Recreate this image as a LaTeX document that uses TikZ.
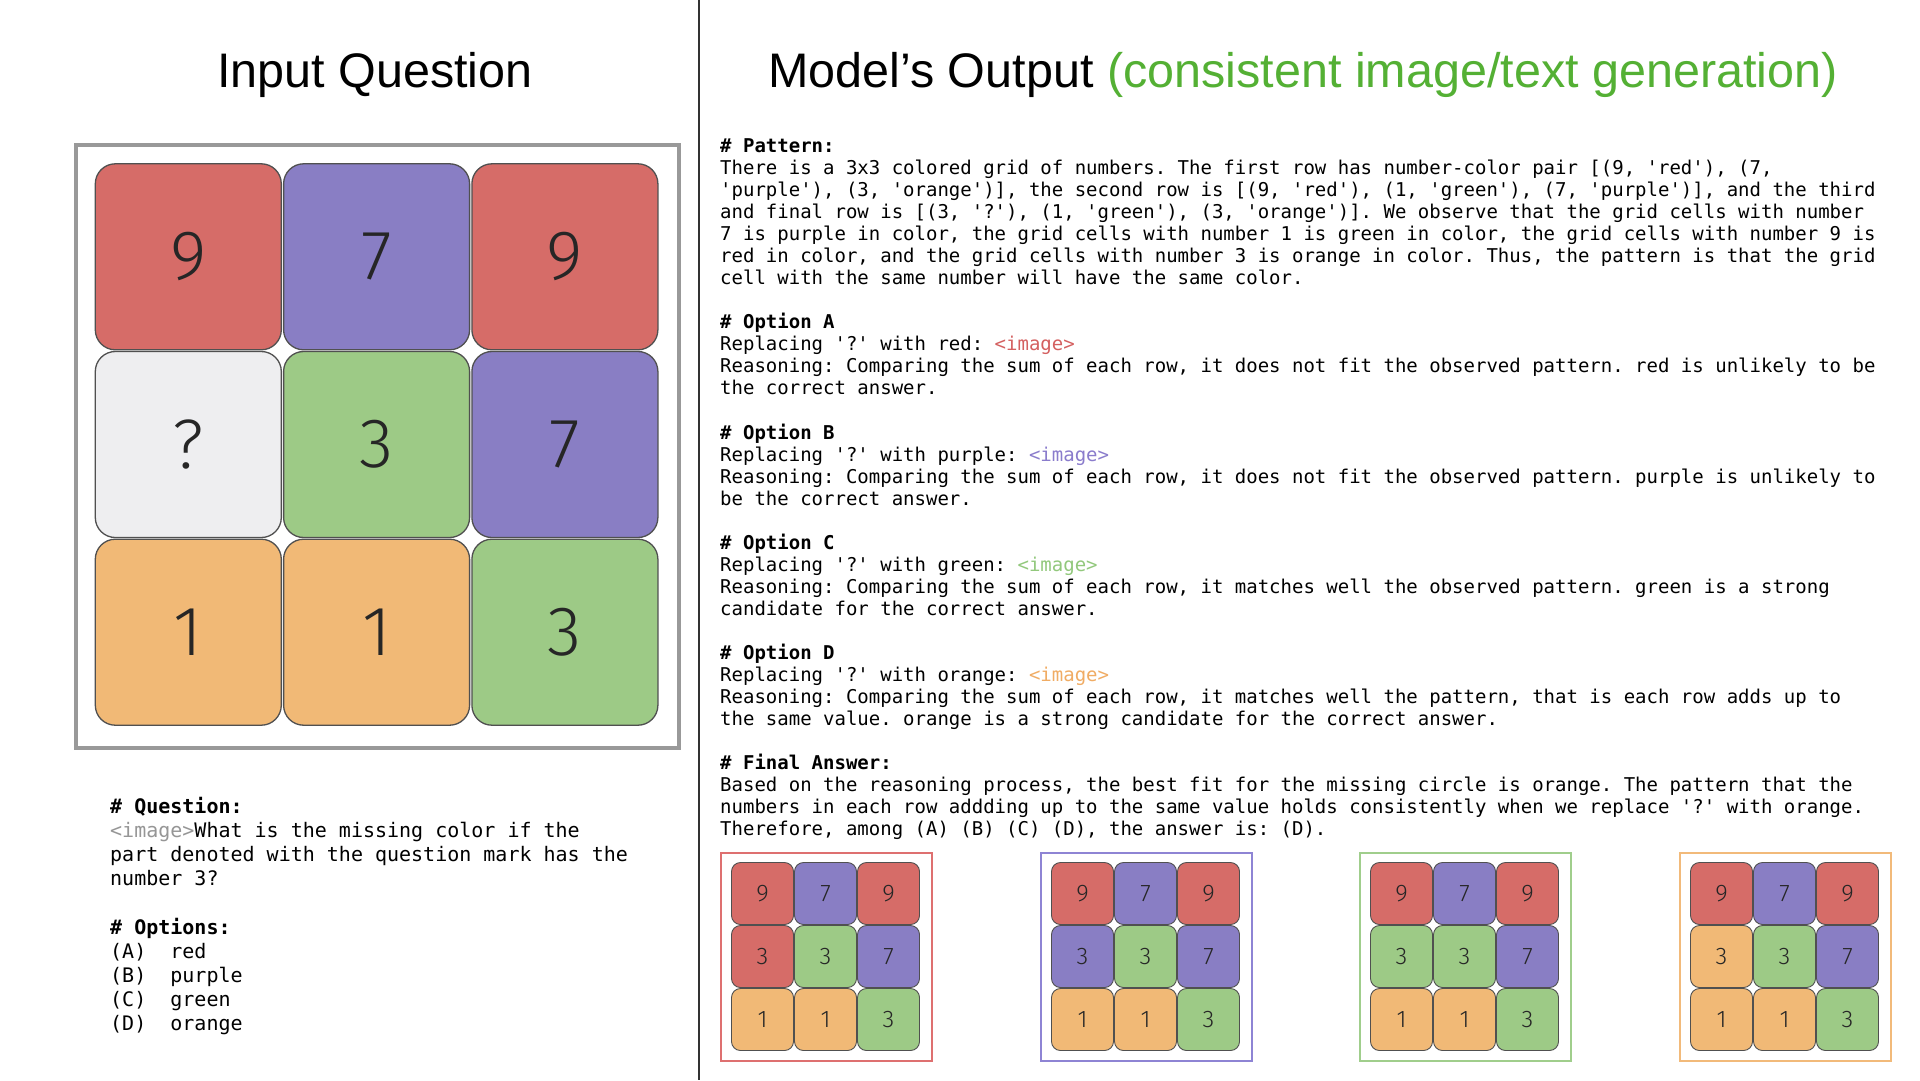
\documentclass[tikz,border=0pt]{standalone}
\usepackage{fontspec}
\setmonofont{DejaVu Sans Mono}
\newfontfamily\titlefont{Liberation Sans}
\newfontfamily\numfont{Fira Sans Light}
\definecolor{cred}{RGB}{214,108,104}
\definecolor{cpur}{RGB}{137,126,196}
\definecolor{cgrn}{RGB}{157,202,134}
\definecolor{corg}{RGB}{241,185,118}
\definecolor{cwht}{RGB}{238,238,240}
\definecolor{cborder}{RGB}{80,80,80}
\definecolor{tgreen}{RGB}{84,176,52}
\definecolor{imgred}{RGB}{212,96,96}
\definecolor{imgpur}{RGB}{138,124,204}
\definecolor{imggrn}{RGB}{146,200,124}
\definecolor{imgorg}{RGB}{240,172,100}
\definecolor{imggray}{RGB}{150,150,150}
\definecolor{fred}{RGB}{222,112,112}
\definecolor{fpur}{RGB}{142,132,212}
\definecolor{fgrn}{RGB}{160,206,140}
\definecolor{forg}{RGB}{242,186,122}
\newcommand\rline[3]{\node[rtext] (#1) at (720,{152.5+22.04*#2}) {#3};}
\newcommand\lline[3]{\node[ltext] (#1) at (110,{813.5+24.1*#2}) {#3};}
\newcommand\smallgrid[4]{%
  \node[draw=#3, line width=2pt, minimum width=211pt, minimum height=208pt, inner sep=0pt, anchor=north west] (#1) at (#2,852) {};
  \foreach \r/\c/\cc/\nn in {1/1/cred/9,1/2/cpur/7,1/3/cred/9,2/1/#4/3,2/2/cgrn/3,2/3/cpur/7,3/1/corg/1,3/2/corg/1,3/3/cgrn/3}{
    \node[smallcell, fill=\cc] (#1-\r\c) at ({#2+42.5+63*(\c-1)},{893.5+63*(\r-1)}) {\nn};
  }%
}
\begin{document}
\begin{tikzpicture}[x=1pt,y=-1pt,
  bigcell/.style={draw=cborder, line width=1.3pt, rounded corners=20pt, minimum width=186pt, minimum height=186pt, inner sep=0pt, text=black!85, font=\numfont\fontsize{70}{70}\selectfont},
  smallcell/.style={draw=cborder, line width=0.9pt, rounded corners=9pt, minimum width=62pt, minimum height=62pt, inner sep=0pt, text=black!85, font=\numfont\fontsize{24}{24}\selectfont},
  rtext/.style={anchor=base west, inner sep=0pt, font=\ttfamily\fontsize{19}{22}\selectfont},
  ltext/.style={anchor=base west, inner sep=0pt, font=\ttfamily\fontsize{20}{24}\selectfont},
  title/.style={inner sep=0pt, font=\titlefont\fontsize{48.5}{56}\selectfont}]
\fill[white] (0,0) rectangle (1920,1080);
\path[use as bounding box] (0,0) rectangle (1920,1080);
% divider
\coordinate (dtop) at (699,0);
\coordinate (dbot) at (699,1080);
\draw[line width=2pt, black!80] (dtop) -- (dbot);
% titles
\node[title] (t1) at (375,75) {Input Question};
\node[title] (t2) at (1303,75) {Model’s Output \textcolor{tgreen}{(consistent image/text generation)}};
% big grid
\node[draw=black!40, line width=4pt, minimum width=603pt, minimum height=603pt, anchor=north west, inner sep=0pt] (bigframe) at (74,143) {};
\foreach \r/\c/\cc/\nn in {1/1/cred/9,1/2/cpur/7,1/3/cred/9,2/1/cwht/?,2/2/cgrn/3,2/3/cpur/7,3/1/corg/1,3/2/corg/1,3/3/cgrn/3}{
  \node[bigcell, fill=\cc] (b\r\c) at ({188.3*\c},{256.8+187.7*(\r-1)}) {\nn};
}
% left text
\lline{q0}{0}{\textbf{\# Question:}}
\lline{q1}{1}{\textcolor{imggray}{<image>}What is the missing color if the}
\lline{q2}{2}{part denoted with the question mark has the}
\lline{q3}{3}{number 3?}
\lline{q5}{5}{\textbf{\# Options:}}
\lline{q6}{6}{(A)\ \ red}
\lline{q7}{7}{(B)\ \ purple}
\lline{q8}{8}{(C)\ \ green}
\lline{q9}{9}{(D)\ \ orange}
% right text
\rline{r0}{0}{\textbf{\# Pattern:}}
\rline{r1}{1}{There is a 3x3 colored grid of numbers. The first row has number-color pair [(9, 'red'), (7,}
\rline{r2}{2}{'purple'), (3, 'orange')], the second row is [(9, 'red'), (1, 'green'), (7, 'purple')], and the third}
\rline{r3}{3}{and final row is [(3, '?'), (1, 'green'), (3, 'orange')]. We observe that the grid cells with number}
\rline{r4}{4}{7 is purple in color, the grid cells with number 1 is green in color, the grid cells with number 9 is}
\rline{r5}{5}{red in color, and the grid cells with number 3 is orange in color. Thus, the pattern is that the grid}
\rline{r6}{6}{cell with the same number will have the same color.}
\rline{r8}{8}{\textbf{\# Option A}}
\rline{r9}{9}{Replacing '?' with red: \textcolor{imgred}{<image>}}
\rline{r10}{10}{Reasoning: Comparing the sum of each row, it does not fit the observed pattern. red is unlikely to be}
\rline{r11}{11}{the correct answer.}
\rline{r13}{13}{\textbf{\# Option B}}
\rline{r14}{14}{Replacing '?' with purple: \textcolor{imgpur}{<image>}}
\rline{r15}{15}{Reasoning: Comparing the sum of each row, it does not fit the observed pattern. purple is unlikely to}
\rline{r16}{16}{be the correct answer.}
\rline{r18}{18}{\textbf{\# Option C}}
\rline{r19}{19}{Replacing '?' with green: \textcolor{imggrn}{<image>}}
\rline{r20}{20}{Reasoning: Comparing the sum of each row, it matches well the observed pattern. green is a strong}
\rline{r21}{21}{candidate for the correct answer.}
\rline{r23}{23}{\textbf{\# Option D}}
\rline{r24}{24}{Replacing '?' with orange: \textcolor{imgorg}{<image>}}
\rline{r25}{25}{Reasoning: Comparing the sum of each row, it matches well the pattern, that is each row adds up to}
\rline{r26}{26}{the same value. orange is a strong candidate for the correct answer.}
\rline{r28}{28}{\textbf{\# Final Answer:}}
\rline{r29}{29}{Based on the reasoning process, the best fit for the missing circle is orange. The pattern that the}
\rline{r30}{30}{numbers in each row addding up to the same value holds consistently when we replace '?' with orange.}
\rline{r31}{31}{Therefore, among (A) (B) (C) (D), the answer is: (D).}
% small grids
\smallgrid{sa}{720}{fred}{cred}
\smallgrid{sb}{1040}{fpur}{cpur}
\smallgrid{sc}{1359}{fgrn}{cgrn}
\smallgrid{sd}{1679}{forg}{corg}
\end{tikzpicture}
\end{document}
